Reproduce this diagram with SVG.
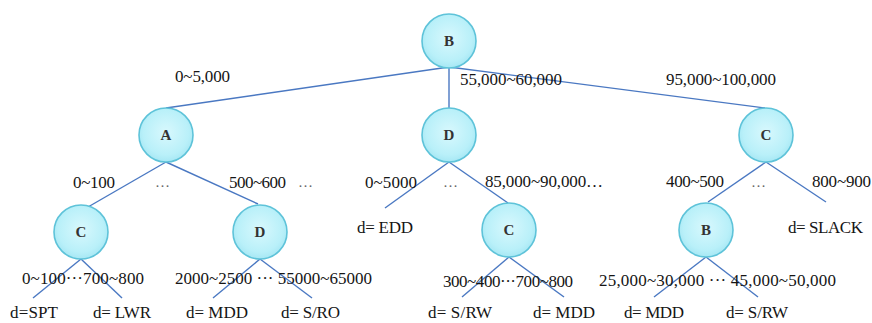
<svg xmlns="http://www.w3.org/2000/svg" width="872" height="323" viewBox="0 0 872 323">
<style>
.n{fill:url(#g);stroke:#5ec3d9;stroke-width:1.6}
.nl{font-size:15px;font-weight:bold;fill:#333;text-anchor:middle}
.t{font-size:17px;fill:#151515}
.el{font-size:15px;fill:#666}
.e line{stroke:#4a78c2;stroke-width:1.4}
</style>
<defs>
<radialGradient id="g" cx="0.5" cy="0.45" r="0.6">
<stop offset="0" stop-color="#d8f8fd"/>
<stop offset="0.7" stop-color="#b9f0f9"/>
<stop offset="1" stop-color="#9fe4f2"/>
</radialGradient>
</defs>
<rect width="872" height="323" fill="#fff"/>
<g class="e" id="edges">
<line x1="449" y1="67" x2="166" y2="108"/>
<line x1="449" y1="67" x2="449" y2="108"/>
<line x1="449" y1="67" x2="765" y2="108"/>
<line x1="166" y1="162" x2="88" y2="207"/>
<line x1="166" y1="162" x2="258" y2="204"/>
<line x1="449" y1="162" x2="385" y2="208"/>
<line x1="449" y1="162" x2="508" y2="203"/>
<line x1="766" y1="162" x2="708" y2="202"/>
<line x1="766" y1="162" x2="826" y2="202"/>
<line x1="81" y1="259" x2="33" y2="298"/>
<line x1="81" y1="259" x2="122" y2="298"/>
<line x1="260" y1="259" x2="213" y2="298"/>
<line x1="260" y1="259" x2="312" y2="298"/>
<line x1="509" y1="257" x2="462" y2="297"/>
<line x1="509" y1="257" x2="564" y2="297"/>
<line x1="706" y1="257" x2="654" y2="297"/>
<line x1="706" y1="257" x2="758" y2="297"/>
</g>
<g font-family="'Liberation Serif', 'Times New Roman', 'DejaVu Serif', serif">
<g id="nB"><circle class="n" cx="449" cy="41" r="27"/><text class="nl" x="449" y="46">B</text></g>
<g id="nA"><circle class="n" cx="166" cy="135" r="27"/><text class="nl" x="166" y="140">A</text></g>
<g id="nD"><circle class="n" cx="449" cy="135" r="27"/><text class="nl" x="449" y="140">D</text></g>
<g id="nC"><circle class="n" cx="766" cy="135" r="27"/><text class="nl" x="766" y="140">C</text></g>
<g id="nC2"><circle class="n" cx="81" cy="232" r="27"/><text class="nl" x="81" y="237">C</text></g>
<g id="nD2"><circle class="n" cx="260" cy="232" r="27"/><text class="nl" x="260" y="237">D</text></g>
<g id="nC3"><circle class="n" cx="509" cy="230" r="27"/><text class="nl" x="509" y="235">C</text></g>
<g id="nB2"><circle class="n" cx="706" cy="230" r="27"/><text class="nl" x="706" y="235">B</text></g>
<g id="labels">
<text class="t" x="175" y="82" textLength="55">0~5,000</text>
<text class="t" x="460" y="85" textLength="102">55,000~60,000</text>
<text class="t" x="666" y="85" textLength="110">95,000~100,000</text>
<text class="t" x="73" y="188" textLength="42">0~100</text>
<text class="el" x="155" y="187" textLength="15">…</text>
<text class="t" x="229" y="188" textLength="57">500~600</text>
<text class="el" x="298" y="187" textLength="14">…</text>
<text class="t" x="365" y="188" textLength="52">0~5000</text>
<text class="el" x="443" y="187" textLength="13">…</text>
<text class="t" x="485" y="187" textLength="118">85,000~90,000…</text>
<text class="t" x="666" y="187" textLength="58">400~500</text>
<text class="el" x="751" y="187" textLength="15">…</text>
<text class="t" x="812" y="187" textLength="59">800~900</text>
<text class="t" x="357" y="233" textLength="56">d= EDD</text>
<text class="t" x="788" y="233" textLength="75">d= SLACK</text>
<text class="t" x="22" y="284" textLength="122">0~100···700~800</text>
<text class="t" x="175" y="284" textLength="197">2000~2500 ··· 55000~65000</text>
<text class="t" x="443" y="287" textLength="130">300~400···700~800</text>
<text class="t" x="599" y="286" textLength="237">25,000~30,000 ··· 45,000~50,000</text>
<text class="t" x="10" y="318" textLength="48">d=SPT</text>
<text class="t" x="93" y="318" textLength="58">d= LWR</text>
<text class="t" x="186" y="318" textLength="62">d= MDD</text>
<text class="t" x="281" y="318" textLength="59">d= S/RO</text>
<text class="t" x="428" y="318" textLength="64">d= S/RW</text>
<text class="t" x="533" y="318" textLength="62">d= MDD</text>
<text class="t" x="624" y="318" textLength="60">d= MDD</text>
<text class="t" x="726" y="318" textLength="62">d= S/RW</text>
</g>
</g>
</svg>
